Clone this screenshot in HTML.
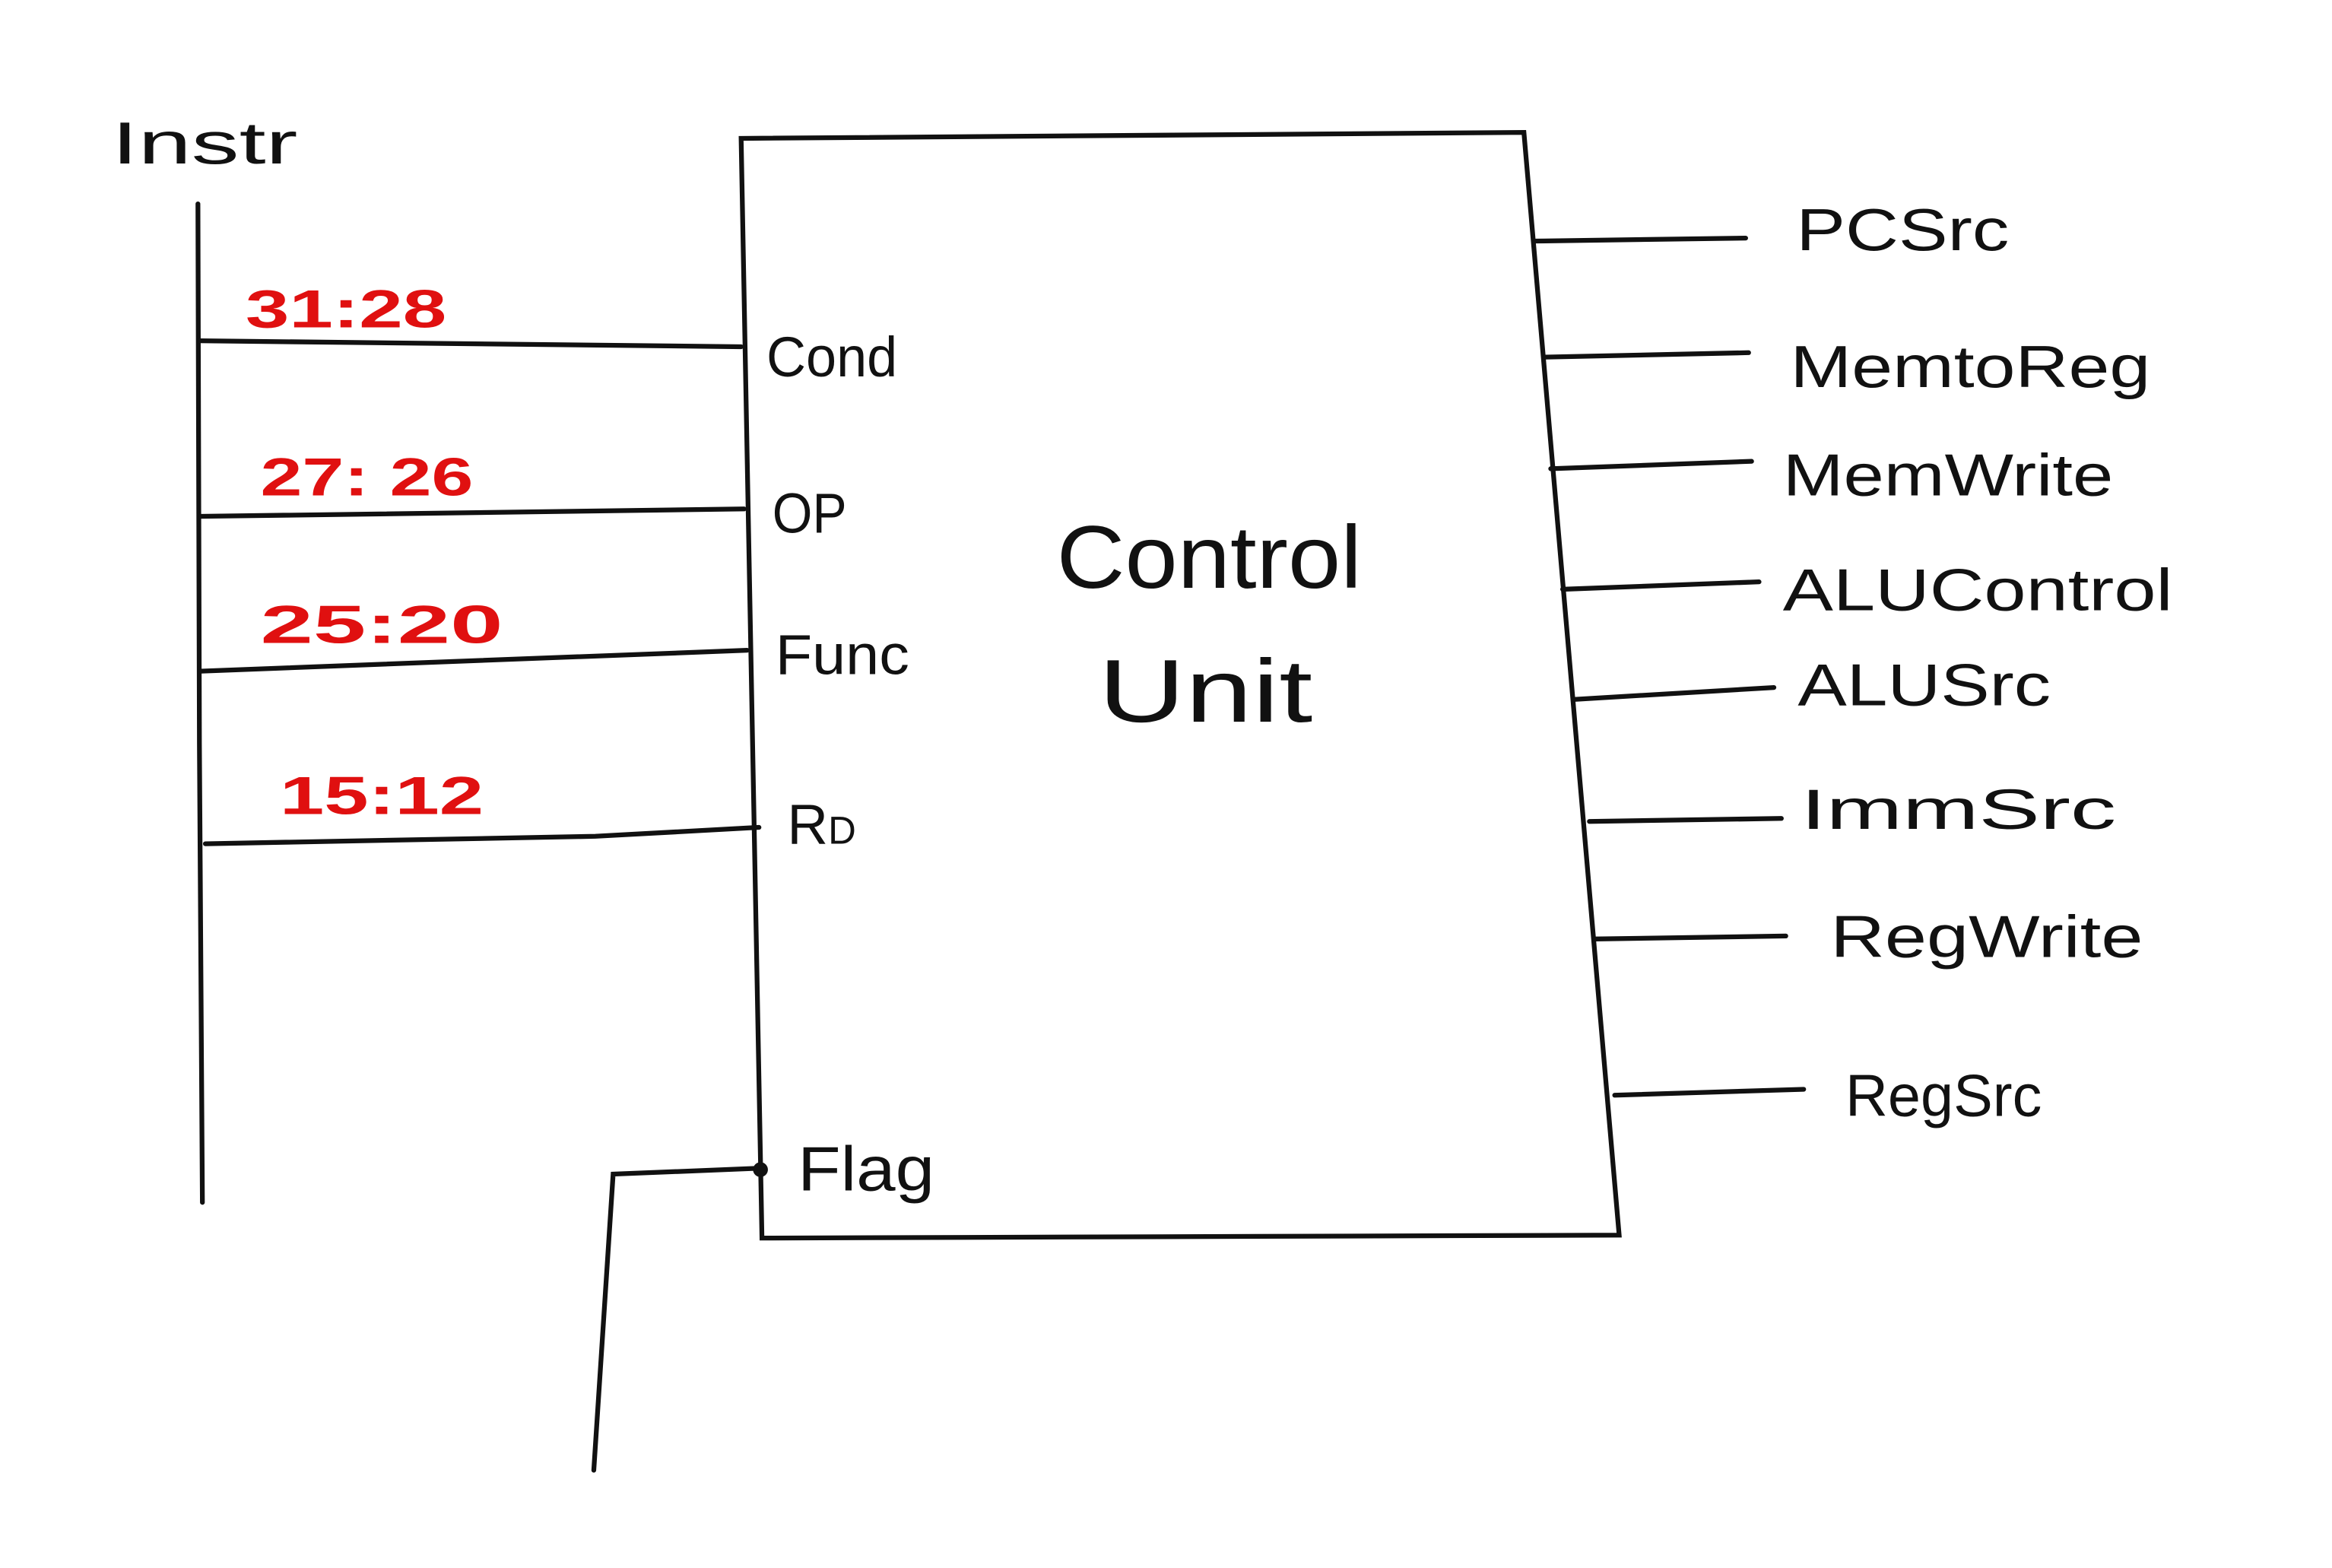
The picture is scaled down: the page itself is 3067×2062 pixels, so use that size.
<!DOCTYPE html>
<html><head><meta charset="utf-8"><style>
html,body{margin:0;padding:0;background:#fff;}
svg{display:block;}
text{font-family:"Liberation Sans",sans-serif;}
</style></head><body>
<svg width="3067" height="2062" viewBox="0 0 1567 1053.7" preserveAspectRatio="none" xmlns="http://www.w3.org/2000/svg">
<rect width="1567" height="1054" fill="#fff"/>
<g stroke="#111" stroke-width="3.2" fill="none" stroke-linecap="round">
<polyline points="133,137 134,500 136,808"/>
<polyline points="134,229 498,233"/>
<polyline points="135,347 500,342"/>
<polyline points="135,451 502,437"/>
<polyline points="138,567 400,562 510,556"/>
<polygon points="498,93 1024,89 1088,830 512,832"/>
<polyline points="512,785 412,789 399,988"/>
<line x1="1032" y1="162" x2="1173" y2="160"/>
<line x1="1038" y1="240" x2="1175" y2="237"/>
<line x1="1042" y1="315" x2="1177" y2="310"/>
<line x1="1050" y1="396" x2="1182" y2="391"/>
<line x1="1058" y1="470" x2="1192" y2="462"/>
<line x1="1068" y1="552" x2="1197" y2="550"/>
<line x1="1072" y1="631" x2="1200" y2="629"/>
<line x1="1085" y1="736" x2="1212" y2="732"/>
</g>
<circle cx="511" cy="786" r="5" fill="#111"/>
<g fill="#111" font-size="38" lengthAdjust="spacingAndGlyphs">
<text x="75" y="110" font-size="40" textLength="125" lengthAdjust="spacingAndGlyphs">Instr</text>
<text x="515" y="253" font-size="38" textLength="88" lengthAdjust="spacingAndGlyphs">Cond</text>
<text x="519" y="358" font-size="38" textLength="50" lengthAdjust="spacingAndGlyphs">OP</text>
<text x="521" y="453" font-size="38" textLength="90" lengthAdjust="spacingAndGlyphs">Func</text>
<text x="529" y="567" font-size="38">R<tspan font-size="26">D</tspan></text>
<text x="536" y="800" font-size="42" textLength="92" lengthAdjust="spacingAndGlyphs">Flag</text>
<text x="710" y="395" font-size="60" textLength="205" lengthAdjust="spacingAndGlyphs">Control</text>
<text x="738" y="485" font-size="60" textLength="144" lengthAdjust="spacingAndGlyphs">Unit</text>
<text x="1207" y="168" font-size="40" textLength="143" lengthAdjust="spacingAndGlyphs">PCSrc</text>
<text x="1203" y="260" font-size="40" textLength="242" lengthAdjust="spacingAndGlyphs">MemtoReg</text>
<text x="1198" y="333" font-size="40" textLength="222" lengthAdjust="spacingAndGlyphs">MemWrite</text>
<text x="1198" y="410" font-size="40" textLength="262" lengthAdjust="spacingAndGlyphs">ALUControl</text>
<text x="1208" y="474" font-size="40" textLength="170" lengthAdjust="spacingAndGlyphs">ALUSrc</text>
<text x="1210" y="557" font-size="38" textLength="212" lengthAdjust="spacingAndGlyphs">ImmSrc</text>
<text x="1230" y="643" font-size="40" textLength="210" lengthAdjust="spacingAndGlyphs">RegWrite</text>
<text x="1240" y="750" font-size="40" textLength="132" lengthAdjust="spacingAndGlyphs">RegSrc</text>
</g>
<g fill="#e01010" font-size="36" font-weight="bold">
<text x="165" y="220" textLength="135" lengthAdjust="spacingAndGlyphs">31:28</text>
<text x="175" y="333" textLength="143" lengthAdjust="spacingAndGlyphs">27: 26</text>
<text x="175" y="432" textLength="163" lengthAdjust="spacingAndGlyphs">25:20</text>
<text x="188" y="547" textLength="137" lengthAdjust="spacingAndGlyphs">15:12</text>
</g>
</svg>
</body></html>
